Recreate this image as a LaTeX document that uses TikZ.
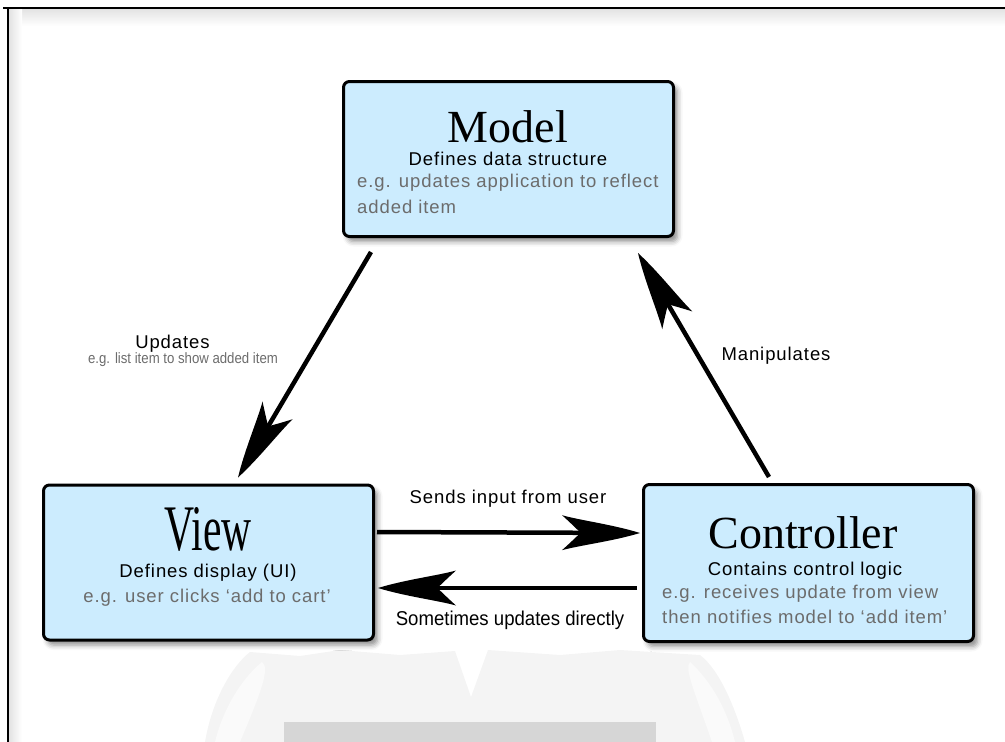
\documentclass[tikz,border=0pt]{standalone}
\usepackage{fontspec}
\setmainfont{Liberation Serif}
\newfontfamily\labelfont[LetterSpace=5]{Liberation Sans}
\newfontfamily\plainsans{Liberation Sans}
\usetikzlibrary{arrows.meta,calc,shadows.blur}
\definecolor{boxblue}{RGB}{204,236,254}
\definecolor{notegray}{RGB}{108,108,108}
\definecolor{framegray}{RGB}{214,214,214}
\definecolor{markgray}{RGB}{244,244,244}
\definecolor{marklight}{RGB}{250,250,250}

% swept barbed arrow head with curved wings
\pgfdeclarearrow{
  name = Barb,
  parameters = {\the\pgfarrowlength,\the\pgfarrowwidth},
  setup code = {
    \pgfarrowssettipend{0pt}
    \pgfarrowssetbackend{-\pgfarrowlength}
    \pgfarrowssetlineend{-0.7\pgfarrowlength}
    \pgfarrowssavethe\pgfarrowlength
    \pgfarrowssavethe\pgfarrowwidth
  },
  drawing code = {
    \pgfpathmoveto{\pgfpointorigin}
    \pgfpathcurveto{\pgfpoint{-0.35\pgfarrowlength}{0.24\pgfarrowwidth}}
                   {\pgfpoint{-0.78\pgfarrowlength}{0.36\pgfarrowwidth}}
                   {\pgfpoint{-\pgfarrowlength}{0.5\pgfarrowwidth}}
    \pgfpathcurveto{\pgfpoint{-0.88\pgfarrowlength}{0.26\pgfarrowwidth}}
                   {\pgfpoint{-0.8\pgfarrowlength}{0.08\pgfarrowwidth}}
                   {\pgfpoint{-0.76\pgfarrowlength}{0pt}}
    \pgfpathcurveto{\pgfpoint{-0.8\pgfarrowlength}{-0.08\pgfarrowwidth}}
                   {\pgfpoint{-0.88\pgfarrowlength}{-0.26\pgfarrowwidth}}
                   {\pgfpoint{-\pgfarrowlength}{-0.5\pgfarrowwidth}}
    \pgfpathcurveto{\pgfpoint{-0.78\pgfarrowlength}{-0.36\pgfarrowwidth}}
                   {\pgfpoint{-0.35\pgfarrowlength}{-0.24\pgfarrowwidth}}
                   {\pgfpointorigin}
    \pgfpathclose
    \pgfusepathqfill
  },
  defaults = {length = 80pt, width = 34pt}
}

\tikzset{
  mvcbox/.style={draw=black, line width=3pt, rounded corners=6pt, fill=boxblue,
    minimum width=330pt, minimum height=155pt, inner sep=0pt,
    blur shadow={shadow xshift=4pt, shadow yshift=-5pt, shadow blur radius=5pt, shadow opacity=45}},
  bigtitle/.style={font=\fontsize{46}{46}\selectfont, anchor=base, inner sep=0pt},
  subline/.style={font=\labelfont\fontsize{18.5}{18.5}\selectfont, anchor=base, inner sep=0pt},
  noteline/.style={subline, text=notegray, anchor=base west},
  flow/.style={line width=4.5pt, -{Barb[length=78pt, width=35pt]}},
}

\begin{document}
\begin{tikzpicture}[x=1pt, y=-1pt]
\useasboundingbox (0,0) rectangle (1005,742);

% page frame with its soft inner edge
\shade[top color=black!11, bottom color=white] (9,9) rectangle (1005,26);
\shade[left color=black!11, right color=white] (9,9) rectangle (22,742);
\draw[line width=2pt] (3,8) -- (1010,8);
\draw[line width=2pt] (8,8) -- (8,750);

% faint emblem at the foot
\fill[markgray] (205,742) .. controls (212,700) and (232,666) .. (250,652)
  -- (300,656) -- (340,650) -- (400,655) -- (455,651) -- (471,697) -- (488,650)
  -- (560,655) -- (620,650) -- (700,655)
  .. controls (720,670) and (736,710) .. (745,742) -- cycle;
\fill[marklight] (215,742) .. controls (222,712) and (240,680) .. (262,662)
  .. controls (270,668) and (262,690) .. (240,742) -- cycle;
\fill[marklight] (735,742) .. controls (728,712) and (712,682) .. (690,662)
  .. controls (684,668) and (694,690) .. (712,742) -- cycle;
\fill[framegray] (284,722) rectangle (656,742);

% the three components
\node[mvcbox] (model) at (508.5,159) {};
\node[mvcbox] (view) at (208.5,562.5) {};
\node[mvcbox, minimum height=157pt] (ctrl) at (808.5,563) {};

\node[bigtitle] (modeltitle) at (508,142) {Model};
\node[subline] (modelsub) at (508,165) {Defines data structure};
\node[noteline] (modelnote1) at (357,187) {e.g. updates application to reflect};
\node[noteline] (modelnote2) at (357,213) {added item};

\node[bigtitle, font=\fontsize{65}{65}\selectfont, xscale=0.64] (viewtitle) at (208,550) {View};
\node[subline] (viewsub) at (208,577) {Defines display (UI)};
\node[subline, text=notegray] (viewnote) at (207,602) {e.g. user clicks ‘add to cart’};

\node[bigtitle] (ctrltitle) at (803,548) {Controller};
\node[subline] (ctrlsub) at (805,575) {Contains control logic};
\node[noteline] (ctrlnote1) at (662,598) {e.g. receives update from view};
\node[noteline] (ctrlnote2) at (662,623) {then notifies model to ‘add item’};

% connectors
\draw[flow] ($(model.south)+(-137.5,14)$) -- ($(view.north)+(29.5,-6)$);
\draw[flow] ($(ctrl.north)+(-39.5,-6)$) -- ($(model.south)+(129.5,15)$);
\draw[flow] ($(view.east)+(2,-30.5)$) -- ($(ctrl.west)+(-2,-30)$);
\draw[flow] ($(ctrl.west)+(-5,25)$) -- ($(view.east)+(3,25.5)$);

% connector labels
\node[subline] (updlabel) at (172.5,348) {Updates};
\node[anchor=base, inner sep=0pt, text=notegray, font=\plainsans\fontsize{15}{15}\selectfont, xscale=0.88] (updnote) at (183,363) {e.g. list item to show added item};
\node[subline] (manlabel) at (776,360) {Manipulates};
\node[subline] (sendlabel) at (508,503) {Sends input from user};
\node[anchor=base, inner sep=0pt, font=\plainsans\fontsize{20}{20}\selectfont, xscale=0.93] (backlabel) at (510,625) {Sometimes updates directly};
\end{tikzpicture}
\end{document}
